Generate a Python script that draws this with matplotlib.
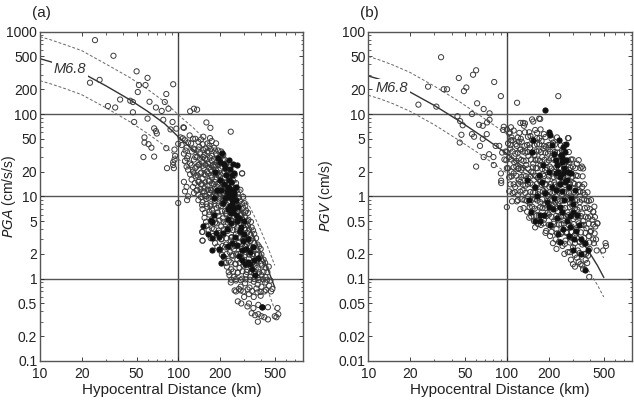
import matplotlib
matplotlib.use("Agg")
import matplotlib.pyplot as plt

plt.rcParams['font.family'] = ['Liberation Sans', 'DejaVu Sans']

# ---------------- Panel (a) PGA data ----------------
pga_open_x = [25, 34, 23, 27, 50, 60, 52, 58, 51, 92, 82, 80, 38, 31, 35, 45, 47, 47, 48,
              62, 69, 76, 85, 78, 60, 67, 69, 70, 88, 97, 109, 91, 57, 61, 57, 64, 56, 67,
              82, 83, 94, 95, 94, 92, 92, 93, 100, 108, 110, 122, 130, 137, 160, 171, 240, 290,
              100, 110, 115, 112, 118, 116, 149, 150,
              104, 112, 121, 133, 140, 152, 163, 175,
              106, 115, 124, 131, 142, 150, 158, 168, 182, 195,
              110, 118, 126, 137, 145, 155, 166, 176, 188, 200, 212,
              112, 122, 130, 140, 148, 157, 165, 175, 186, 198, 210, 222,
              118, 128, 136, 145, 153, 162, 172, 181, 190, 203, 216, 230, 245,
              125, 134, 141, 150, 158, 167, 176, 186, 196, 207, 219, 233, 250, 290,
              128, 137, 146, 155, 163, 172, 181, 192, 203, 215, 228, 242, 258,
              130, 140, 150, 160, 170, 180, 190, 200, 212, 225, 240, 255, 270,
              140, 150, 160, 172, 184, 196, 208, 220, 233, 247, 262, 280, 300,
              150, 162, 176, 190, 204, 218, 232, 246, 262, 278, 295, 310,
              155, 168, 182, 196, 210, 225, 240, 255, 270, 287, 305, 322,
              160, 175, 190, 205, 220, 236, 252, 268, 285, 302, 320, 340,
              150, 180, 196, 212, 228, 245, 262, 280, 298, 316, 335, 355,
              150, 185, 205, 222, 240, 258, 276, 295, 314, 334, 356, 375,
              200, 218, 236, 254, 272, 290, 310, 330, 350, 372, 395,
              215, 232, 250, 268, 286, 305, 325, 345, 367, 390, 415,
              225, 242, 260, 278, 296, 316, 336, 358, 380, 405, 430, 452,
              235, 252, 270, 290, 310, 332, 355, 378, 402, 428,
              240, 262, 283, 305, 328, 352, 376, 400, 426, 455, 480,
              262, 283, 300, 325, 352, 375, 395, 420,
              270, 286, 317, 325, 350, 380, 405, 446, 523,
              340, 360, 377, 400, 420, 380, 446, 500, 514, 530]
pga_open_y = [790, 510, 240, 260, 330, 275, 225, 225, 185, 230, 175, 140, 150, 125, 120, 145, 140, 105, 80,
              141, 120, 109, 116, 85, 88, 67, 62, 58, 65, 66.5, 69, 80, 52, 43, 45, 39, 30, 30.4,
              38.5, 22, 37, 31, 28, 26, 24, 22, 43.4, 50.7, 68, 108, 116, 113, 79, 68, 61, 19,
              8.3, 15, 13, 11.5, 10, 9, 3.7, 2.9,
              52, 48, 55, 50, 46, 53, 44, 47,
              42, 39, 44, 37, 40, 43, 38, 41, 39, 36,
              33, 31, 35, 30, 34, 32, 35, 31, 33, 30, 32,
              27, 25, 28, 24, 26, 29, 25, 27, 24, 26, 28, 25,
              21, 20, 23, 19, 22, 20, 21, 23, 19, 22, 20, 21, 19,
              16, 17.5, 15, 16.5, 18, 15.5, 17, 16, 18, 15, 17, 16, 15.5, 19,
              13, 12, 14, 12.5, 13.5, 12, 14, 13, 12.5, 13.5, 12, 13, 12.5,
              11, 10.5, 11.5, 10, 11, 10.5, 11.5, 10.2, 11, 10.5, 11.3, 10.2, 10.8,
              9, 8.5, 9.3, 8, 8.8, 9.4, 8.2, 9, 8.5, 9.2, 8.1, 8.7, 8.3,
              7, 7.5, 6.8, 7.2, 7.6, 6.6, 7.3, 7, 7.7, 6.9, 7.2, 6.7,
              5.5, 6, 5.2, 5.8, 5.4, 6.1, 5.1, 5.7, 5.3, 5.9, 5.5, 5.2,
              4.4, 4.1, 4.7, 4.3, 4.6, 4.0, 4.5, 4.2, 4.7, 4.1, 4.4, 4.2,
              3.7, 3.3, 3.6, 3.4, 3.8, 3.2, 3.5, 3.7, 3.3, 3.6, 3.4, 3.5,
              2.9, 2.7, 3.0, 2.6, 2.9, 2.5, 2.8, 3.0, 2.6, 2.9, 2.7, 2.6,
              2.2, 2.4, 2.1, 2.3, 2.0, 2.3, 2.1, 2.4, 2.2, 2.0, 2.3,
              1.8, 1.65, 1.9, 1.7, 1.85, 1.6, 1.75, 1.9, 1.65, 1.8, 1.7,
              1.4, 1.3, 1.5, 1.35, 1.45, 1.28, 1.4, 1.52, 1.3, 1.45, 1.35, 1.4,
              1.1, 1.05, 1.18, 1.0, 1.12, 1.06, 1.15, 1.02, 1.1, 1.05,
              0.9, 0.95, 0.8, 0.88, 0.78, 0.92, 0.85, 0.8, 0.9, 0.82, 0.75,
              0.7, 0.72, 0.6, 0.65, 0.6, 0.68, 0.62, 0.7,
              0.53, 0.5, 0.46, 0.5, 0.44, 0.48, 0.45, 0.45, 0.44,
              0.38, 0.36, 0.3, 0.35, 0.34, 0.37, 0.32, 0.35, 0.34, 0.37]
# denser core of the PGA cloud
pga_core_x = [118, 128, 146, 170, 188,
              113, 129, 140, 152, 162, 172, 185, 205,
              116, 133, 144, 152, 161, 170, 181, 193, 204, 216,
              115, 125, 133, 142, 150, 158, 168, 178, 186, 196, 208, 220, 236,
              122, 130, 138, 147, 155, 164, 173, 182, 192, 202, 212, 225, 240, 256,
              132, 140, 148, 157, 166, 175, 185, 195, 206, 218, 231, 245, 262,
              136, 145, 154, 164, 174, 184, 195, 207, 220, 234, 249, 265, 282,
              146, 156, 166, 177, 188, 200, 213, 227, 242, 258, 275, 295,
              149, 160, 171, 183, 196, 210, 224, 239, 255, 272, 290, 306,
              156, 168, 180, 193, 207, 221, 236, 252, 269, 287, 305, 320,
              159, 172, 185, 199, 213, 228, 244, 261, 279, 298, 318, 336,
              166, 181, 197, 213, 230, 248, 266, 285, 305, 326, 348,
              172, 190, 206, 223, 241, 260, 280, 300, 321, 343, 366,
              192, 210, 228, 246, 265, 285, 306, 328, 350, 384,
              207, 225, 244, 263, 283, 304, 326, 348, 372, 400,
              222, 240, 259, 279, 300, 322, 345, 370, 398, 425,
              232, 250, 270, 291, 313, 336, 360, 386, 414, 442,
              242, 262, 284, 307, 331, 356, 383, 410, 440, 465,
              256, 275, 296, 318, 342, 368, 395, 432, 470]
pga_core_y = [45, 50, 49, 51, 44,
              36, 38, 37, 36.5, 35, 37.5, 36, 35,
              29, 30, 28.5, 30, 28, 29.5, 28.5, 29, 30, 28,
              23, 24, 22, 24.5, 23.5, 24, 22.5, 24, 23, 24, 23, 23.5, 22.5,
              18.5, 19, 18, 19.5, 18.5, 19, 18, 18.8, 19.2, 18.3, 18.9, 18.4, 19, 18.2,
              14.5, 15, 14.2, 14.8, 15.2, 14.4, 14.9, 14.3, 15, 14.6, 14.2, 14.8, 14.5,
              11.7, 12.2, 11.5, 12, 11.8, 12.3, 11.6, 12.1, 11.7, 12.2, 11.5, 11.9, 12,
              9.8, 10.1, 9.6, 9.9, 10.2, 9.7, 10, 9.6, 9.9, 10.1, 9.7, 9.9,
              7.8, 8.1, 7.6, 8, 7.7, 8.2, 7.9, 7.6, 8, 7.8, 8.1, 7.7,
              6.3, 6.5, 6.2, 6.4, 6.6, 6.2, 6.4, 6.3, 6.5, 6.2, 6.4, 6.3,
              4.9, 5, 4.8, 5.1, 4.9, 4.8, 5, 4.9, 5.1, 4.8, 5, 4.9,
              3.9, 4.0, 3.85, 3.95, 4.0, 3.9, 3.85, 4.0, 3.9, 3.95, 3.85,
              3.1, 3.15, 3.05, 3.1, 3.15, 3.05, 3.1, 3.15, 3.05, 3.1, 3.1,
              2.45, 2.5, 2.4, 2.45, 2.5, 2.4, 2.45, 2.5, 2.4, 2.45,
              1.95, 2.0, 1.92, 1.97, 2.0, 1.93, 1.96, 2.0, 1.94, 1.97,
              1.55, 1.58, 1.52, 1.56, 1.58, 1.53, 1.57, 1.55, 1.52, 1.56,
              1.2, 1.22, 1.19, 1.23, 1.21, 1.2, 1.22, 1.19, 1.21, 1.2,
              0.97, 0.99, 0.96, 0.98, 0.97, 0.99, 0.96, 0.98, 0.97, 0.95,
              0.72, 0.75, 0.7, 0.74, 0.71, 0.76, 0.69, 0.73, 0.7]
pga_fill_x = [207, 195, 214, 236, 250, 248, 210, 229, 182, 173, 188, 177, 176, 151, 196, 177,
              196, 211, 204, 320, 330, 356, 305, 331, 405, 165, 240, 255, 262, 230, 245, 222,
              260, 275, 285, 300, 240, 268, 290, 225, 218, 200, 185, 270, 300, 350, 380, 320,
              250, 262, 242, 228,
              215, 232, 246, 205, 238, 252, 265, 280, 295, 310, 225, 212, 258, 245, 230, 275,
              290, 340, 360, 265, 255, 218, 232, 200, 190, 183, 235, 240, 228, 244, 236, 250]
pga_fill_y = [34, 29, 25, 21.5, 12, 10, 8.2, 7, 6, 5.1, 3.6, 3.1, 4.9, 4.4, 3.2, 2.2,
              2.3, 1.9, 1.55, 1.6, 1.5, 1.68, 1.5, 2.1, 0.45, 3.5, 15, 11, 9, 13, 8, 18,
              6, 5.5, 4.2, 3.5, 4.8, 2.6, 2.2, 11.5, 9.5, 16, 20, 7.5, 5, 2.4, 1.8, 3,
              25, 13, 6.2, 5.3,
              14, 16, 18, 12, 9.8, 7.2, 5, 3.8, 2.9, 2.3, 4, 3.6, 3.2, 2.7, 2.5, 1.9,
              1.7, 1.3, 1.1, 24, 19, 22, 28, 26, 12, 9.6, 12.5, 11, 10.5, 9, 7.6, 6.6]

# attenuation curve for M6.8 (median and +/- 1 sigma)
curve_x = [10, 12, 15, 20, 30, 45, 60, 80, 100, 130, 160, 200, 250, 300, 350, 400, 450, 500]
pga_mid = [470, 430, 380, 318, 220, 148, 108, 76, 53, 36, 25.5, 16.5, 9.6, 5.5, 3.3, 2.0, 1.25, 0.78]
pga_up = [870, 795, 700, 590, 405, 275, 200, 140, 98, 67, 47, 30.5, 17.8, 10.2, 6.1, 3.7, 2.3, 1.45]
pga_lo = [254, 232, 205, 172, 119, 80, 58, 41, 28.6, 19.5, 13.8, 8.9, 5.2, 3.0, 1.8, 1.08, 0.68, 0.42]

# ---------------- Panel (b) PGV data ----------------
pgv_open_x = [33.5, 23, 27, 31, 35, 37, 45, 57, 60, 51, 49, 81, 90.5, 118.5, 235, 44, 56, 61, 68, 75,
              46, 48, 47, 45.7, 56, 58, 67, 72, 75, 63, 67, 64, 71.6, 83, 88, 74.5, 68, 80, 60, 80.5,
              92.5, 94, 95, 100, 91, 91, 90.5, 104, 121, 107, 105, 107, 125, 131, 133, 123, 152, 171,
              175, 145, 279, 348, 122, 125, 205, 276, 280, 135, 155, 174, 165,
              104, 112, 120, 135, 148, 160, 172, 185,
              102, 110, 118, 128, 140, 152, 165, 178, 192, 215,
              98, 106, 115, 125, 136, 147, 158, 170, 184, 198, 214, 232, 250,
              96, 104, 113, 122, 132, 143, 155, 167, 180, 194, 209, 226, 245, 265, 290, 320,
              100, 108, 117, 127, 138, 150, 162, 175, 189, 204, 220, 238, 258, 280, 300, 340,
              104, 112, 122, 132, 143, 155, 168, 182, 197, 213, 230, 250, 270, 292, 315,
              106, 115, 125, 136, 148, 160, 174, 188, 203, 220, 238, 258, 280, 302, 326, 350,
              110, 120, 130, 142, 155, 168, 182, 197, 213, 230, 249, 269, 290, 313, 338, 365,
              109, 118, 134, 146, 160, 174, 190, 206, 224, 243, 264, 286, 310, 336, 362, 390,
              100, 125, 140, 152, 166, 181, 197, 214, 232, 252, 274, 297, 322, 350, 380, 420,
              145, 157, 170, 185, 201, 218, 236, 256, 278, 302, 328, 356, 385, 415, 450,
              160, 176, 192, 210, 228, 248, 270, 293, 318, 345, 375, 405, 435,
              205, 225, 245, 265, 287, 310, 335, 362, 390, 420, 515,
              228, 252, 275, 300, 325, 350, 372, 395, 445, 495, 520,
              290, 310, 320, 340, 355, 370,
              393, 440, 428, 450, 420]
pgv_open_y = [49, 13, 21.5, 12.3, 20, 20, 27.4, 30, 34, 21, 19, 24.5, 16.5, 13.7, 16.5, 9.4, 10, 13.5, 11.5, 10.2,
              8.2, 7.3, 5.6, 4.5, 5.7, 5.3, 7.2, 7.9, 8.5, 7.4, 5.0, 4.1, 5.7, 4.1, 4.1, 3.25, 3.0, 3.0, 2.3, 2.4,
              3.4, 6.4, 7.0, 6.5, 1.55, 1.45, 1.9, 1.15, 2.2, 6.9, 6.0, 4.8, 7.8, 7.8, 7.2, 5.9, 8.6, 8.8,
              6.5, 6.0, 5.1, 2.3, 4.6, 3.7, 4.2, 5.1, 2.6, 7.7, 8.1, 8.7, 5.9,
              5.8, 6.3, 5.2, 6.0, 5.4, 6.4, 5.1, 5.7,
              4.4, 4.8, 4.1, 4.6, 4.2, 4.9, 4.3, 4.7, 4.0, 4.5,
              3.5, 3.8, 3.3, 3.7, 3.4, 3.9, 3.2, 3.6, 3.8, 3.3, 3.7, 3.4, 3.6,
              2.8, 3.0, 2.6, 2.9, 2.7, 3.1, 2.5, 2.8, 3.0, 2.6, 2.9, 2.7, 3.0, 2.6, 2.8, 2.5,
              2.2, 2.0, 2.3, 2.1, 2.4, 2.0, 2.2, 2.4, 2.1, 2.3, 2.0, 2.2, 2.4, 2.1, 2.3, 2.2,
              1.7, 1.9, 1.6, 1.8, 1.65, 1.95, 1.7, 1.85, 1.6, 1.9, 1.75, 1.65, 1.9, 1.7, 1.8,
              1.4, 1.3, 1.5, 1.35, 1.45, 1.28, 1.52, 1.4, 1.3, 1.48, 1.35, 1.5, 1.3, 1.45, 1.38, 1.3,
              1.1, 1.05, 1.18, 1.0, 1.12, 1.06, 1.15, 1.02, 1.1, 1.17, 1.04, 1.12, 1.0, 1.08, 1.15, 1.05,
              0.87, 0.87, 0.9, 0.82, 0.93, 0.85, 0.8, 0.91, 0.84, 0.88, 0.95, 0.82, 0.9, 0.85, 0.92, 0.88,
              0.74, 0.7, 0.65, 0.75, 0.68, 0.72, 0.63, 0.77, 0.66, 0.71, 0.64, 0.76, 0.69, 0.62, 0.73, 0.65,
              0.55, 0.5, 0.58, 0.52, 0.6, 0.49, 0.56, 0.51, 0.59, 0.53, 0.57, 0.5, 0.55, 0.52, 0.47,
              0.42, 0.45, 0.38, 0.44, 0.4, 0.46, 0.37, 0.43, 0.39, 0.45, 0.41, 0.38, 0.43,
              0.33, 0.3, 0.35, 0.29, 0.32, 0.34, 0.28, 0.31, 0.33, 0.3, 0.27,
              0.23, 0.25, 0.21, 0.24, 0.22, 0.26, 0.2, 0.23, 0.22, 0.22, 0.25,
              0.17, 0.14, 0.18, 0.15, 0.13, 0.17,
              0.105, 0.3, 0.75, 0.47, 0.65]
# denser core of the PGV cloud
pgv_core_x = [108, 126, 142, 165, 190, 210, 230,
              106, 116, 134, 146, 158, 172, 186, 200, 222, 245, 262,
              100, 110, 120, 130, 141, 152, 164, 176, 190, 205, 222, 240, 260, 280,
              99, 108, 117, 127, 138, 149, 161, 173, 187, 201, 217, 235, 254, 275, 298, 330,
              102, 112, 121, 131, 142, 154, 166, 180, 194, 210, 227, 246, 266, 288, 312, 355,
              108, 117, 127, 137, 148, 160, 173, 186, 201, 217, 235, 254, 275, 298, 325, 352,
              112, 121, 131, 142, 153, 165, 178, 192, 208, 224, 243, 263, 285, 308, 333, 362,
              114, 125, 136, 148, 160, 173, 188, 204, 221, 240, 260, 281, 304, 328, 355, 382,
              120, 128, 140, 152, 166, 180, 196, 213, 232, 252, 274, 297, 322, 348, 377, 405,
              132, 146, 159, 173, 189, 206, 224, 243, 263, 285, 309, 335, 365, 398,
              150, 164, 178, 193, 210, 227, 246, 267, 290, 315, 342, 370, 400, 432,
              168, 184, 201, 219, 238, 258, 280, 304, 331, 360, 390, 420,
              190, 210, 230, 250, 270, 292, 316, 342, 370, 400, 430,
              215, 238, 262, 285, 310, 336, 365, 395, 425,
              260, 285, 310, 335, 360, 385,
              300, 330, 350, 380]
pgv_core_y = [5.2, 5.0, 5.3, 5.1, 5.25, 5.0, 5.2,
              4.2, 4.3, 4.1, 4.25, 4.15, 4.3, 4.1, 4.2, 4.25, 4.15, 4.2,
              3.45, 3.5, 3.4, 3.5, 3.45, 3.4, 3.5, 3.45, 3.4, 3.5, 3.45, 3.4, 3.5, 3.45,
              2.75, 2.8, 2.7, 2.78, 2.72, 2.8, 2.75, 2.7, 2.78, 2.74, 2.8, 2.7, 2.76, 2.72, 2.8, 2.75,
              2.2, 2.25, 2.15, 2.22, 2.18, 2.25, 2.2, 2.15, 2.22, 2.18, 2.25, 2.2, 2.16, 2.22, 2.2, 2.18,
              1.75, 1.78, 1.72, 1.76, 1.74, 1.78, 1.73, 1.77, 1.75, 1.72, 1.78, 1.74, 1.76, 1.73, 1.77, 1.75,
              1.4, 1.42, 1.38, 1.41, 1.39, 1.42, 1.38, 1.4, 1.41, 1.39, 1.42, 1.38, 1.4, 1.41, 1.39, 1.4,
              1.12, 1.14, 1.1, 1.13, 1.11, 1.14, 1.1, 1.12, 1.13, 1.11, 1.14, 1.1, 1.12, 1.13, 1.11, 1.12,
              0.9, 0.92, 0.88, 0.91, 0.89, 0.92, 0.88, 0.9, 0.91, 0.89, 0.92, 0.88, 0.9, 0.91, 0.89, 0.9,
              0.72, 0.74, 0.71, 0.73, 0.72, 0.74, 0.71, 0.73, 0.72, 0.74, 0.71, 0.73, 0.72, 0.7,
              0.57, 0.58, 0.56, 0.575, 0.565, 0.58, 0.56, 0.57, 0.58, 0.56, 0.575, 0.565, 0.57, 0.56,
              0.46, 0.47, 0.45, 0.465, 0.455, 0.47, 0.45, 0.46, 0.47, 0.45, 0.465, 0.455,
              0.36, 0.37, 0.355, 0.365, 0.36, 0.37, 0.355, 0.365, 0.36, 0.37, 0.355,
              0.27, 0.28, 0.265, 0.275, 0.27, 0.28, 0.265, 0.275, 0.27,
              0.2, 0.21, 0.195, 0.205, 0.2, 0.19,
              0.15, 0.16, 0.145, 0.155]
pgv_fill_x = [190, 203, 205, 239, 154, 152, 220, 225, 230, 235, 240, 243, 228, 250, 260, 270,
              280, 174, 174, 205, 235, 287, 287, 305, 366, 388, 366, 300, 180, 165, 195, 215,
              250, 260, 300, 320, 200, 140, 150, 160, 256, 262, 290, 310, 330, 240, 340,
              245, 250, 255, 262, 248, 225, 212, 190, 200, 230, 270, 255, 300, 315, 280, 345,
              182, 170, 160, 145, 210, 265, 268, 275, 185, 220, 290, 240]
pgv_fill_y = [11.2, 6.0, 5.6, 4.8, 4.8, 3.5, 3.3, 2.8, 2.4, 2.0, 1.7, 1.4, 1.2, 3.0, 2.2, 1.6,
              1.3, 0.6, 0.5, 0.45, 0.35, 0.57, 0.43, 0.3, 0.27, 0.22, 0.126, 0.22, 1.5, 1.0, 0.85, 0.7,
              0.65, 0.9, 0.8, 0.6, 2.0, 1.6, 0.65, 0.5, 4.0, 3.5, 1.9, 1.2, 0.45, 0.28, 0.3,
              3.2, 2.6, 1.9, 1.5, 1.15, 1.9, 1.3, 1.1, 0.75, 0.55, 0.5, 0.4, 0.65, 0.38, 0.33, 0.2,
              2.4, 1.8, 1.3, 0.9, 4.2, 4.3, 2.8, 2.0, 0.6, 0.95, 0.95, 0.75]

pgv_mid = [29, 26.5, 23, 18.5, 12.7, 8.3, 6.0, 4.3, 3.3, 2.3, 1.65, 1.1, 0.66, 0.42, 0.28, 0.2, 0.145, 0.104]
pgv_up = [50, 45.5, 39.5, 32, 21.8, 14.3, 10.3, 7.4, 5.7, 4.0, 2.85, 1.9, 1.14, 0.72, 0.48, 0.34, 0.25, 0.178]
pgv_lo = [16.9, 15.4, 13.4, 10.8, 7.4, 4.8, 3.5, 2.5, 1.92, 1.34, 0.96, 0.64, 0.38, 0.245, 0.163, 0.116, 0.084, 0.06]

x_ticks = [10, 20, 50, 100, 200, 500]
pga_ticks = [0.1, 0.2, 0.5, 1, 2, 5, 10, 20, 50, 100, 200, 500, 1000]
pgv_ticks = [0.01, 0.02, 0.05, 0.1, 0.2, 0.5, 1, 2, 5, 10, 20, 50, 100]


def fmt(v):
    return ('%g' % v)


fig = plt.figure(figsize=(6.34, 4.0), dpi=100)
ax_a = fig.add_axes([40 / 634, 39 / 400, 263 / 634, 329.3 / 400])
ax_b = fig.add_axes([368.3 / 634, 39 / 400, 263.7 / 634, 329.3 / 400])

panels = [
    (ax_a, pga_open_x + pga_core_x, pga_open_y + pga_core_y, pga_fill_x, pga_fill_y,
     pga_mid, pga_up, pga_lo, pga_ticks, (0.1, 1000), [1, 10, 100], 'PGA', ' (cm/s/s)',
     '(a)', (16.5, 357), -0.084),
    (ax_b, pgv_open_x + pgv_core_x, pgv_open_y + pgv_core_y, pgv_fill_x, pgv_fill_y,
     pgv_mid, pgv_up, pgv_lo, pgv_ticks, (0.01, 100), [0.1, 1, 10], 'PGV', ' (cm/s)',
     '(b)', (14.8, 20.8), -0.126),
]

edge = '#3a3a3a'
for (ax, ox, oy, fx, fy, mid, up, lo, yt, ylim, hlines, qn, unit, tag, lab, ylx) in panels:
    ax.set_xscale('log')
    ax.set_yscale('log')
    ax.set_xlim(10, 800)
    ax.set_ylim(*ylim)
    ax.axvline(100, color='#444444', lw=1.0, zorder=1)
    for h in hlines:
        ax.axhline(h, color='#555555', lw=1.0, zorder=1)
    ax.scatter(ox, oy, s=14, facecolors='none', edgecolors=edge, linewidths=0.7, zorder=3)
    ax.scatter(fx, fy, s=14, facecolors='#111111', edgecolors='#111111', linewidths=0.7, zorder=4)
    ax.plot(curve_x, up, color='#666666', lw=0.7, ls=(0, (3, 2)), zorder=2)
    ax.plot(curve_x, lo, color='#666666', lw=0.7, ls=(0, (3, 2)), zorder=2)
    ax.plot(curve_x, mid, color='#333333', lw=1.0, zorder=2)
    ax.text(lab[0], lab[1], 'M6.8', style='italic', fontsize=10.5, ha='center', va='center',
            color='#333333', zorder=5,
            bbox=dict(facecolor='white', edgecolor='none', pad=1.0))
    ax.set_xticks(x_ticks)
    ax.set_xticklabels([fmt(v) for v in x_ticks])
    ax.set_yticks(yt)
    ax.set_yticklabels([fmt(v) for v in yt])
    ax.tick_params(which='both', direction='in', top=True, right=True, labelsize=10,
                   colors='#222222', pad=2)
    ax.tick_params(which='major', length=3, width=0.6)
    ax.tick_params(which='minor', length=1.8, width=0.5)
    ax.tick_params(axis='x', pad=4)
    for s in ax.spines.values():
        s.set_color('#555555')
        s.set_linewidth(1.0)
    ax.set_xlabel('Hypocentral Distance (km)', fontsize=11, color='#222222', labelpad=2)
    ax.set_ylabel(r'$\it{' + qn + '}$' + unit, fontsize=10, color='#222222')
    ax.yaxis.set_label_coords(ylx, 0.5)
    ax.text(-0.032, 1.058, tag, transform=ax.transAxes, fontsize=11, ha='left', va='center',
            color='#222222')

fig.savefig('out.png', dpi=100)
